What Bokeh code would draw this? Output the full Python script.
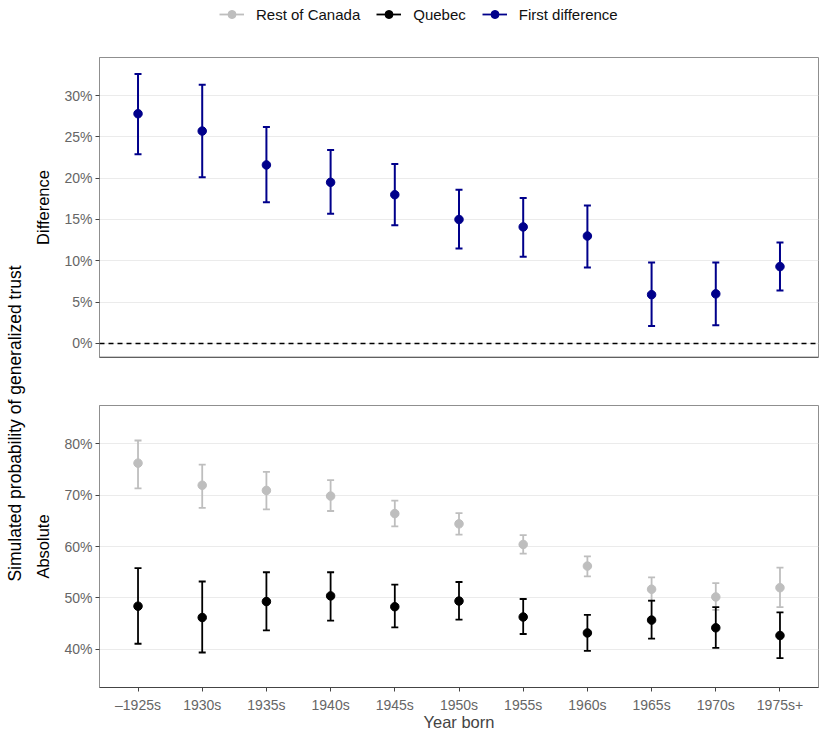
import math
from bokeh.plotting import figure
from bokeh.models import (ColumnDataSource, FactorRange, Range1d, Whisker, TeeHead, Span,
                          FixedTicker, PrintfTickFormatter, Legend, LegendItem, Label)
from bokeh.layouts import column, row
from bokeh.embed import file_html
from bokeh.resources import INLINE

# ---------------- data ----------------
cohorts = ["–1925s", "1930s", "1935s", "1940s", "1945s", "1950s",
           "1955s", "1960s", "1965s", "1970s", "1975s+"]

# First difference (percentage points)
diff_est = [27.8, 25.7, 21.6, 19.5, 18.0, 15.0, 14.1, 13.0, 5.9, 6.0, 9.3]
diff_low = [22.9, 20.1, 17.1, 15.7, 14.3, 11.5, 10.5, 9.2, 2.1, 2.2, 6.4]
diff_high = [32.6, 31.3, 26.2, 23.4, 21.7, 18.6, 17.6, 16.7, 9.8, 9.8, 12.2]

# Rest of Canada (%)
roc_est = [76.2, 71.9, 70.9, 69.8, 66.4, 64.4, 60.4, 56.2, 51.7, 50.2, 52.0]
roc_low = [71.3, 67.5, 67.2, 66.9, 63.9, 62.3, 58.6, 54.2, 49.4, 47.7, 48.2]
roc_high = [80.6, 75.9, 74.5, 72.9, 68.9, 66.5, 62.2, 58.1, 54.0, 52.9, 55.9]

# Quebec (%)
que_est = [48.4, 46.2, 49.3, 50.4, 48.3, 49.4, 46.3, 43.2, 45.7, 44.2, 42.7]
que_low = [41.1, 39.4, 43.7, 45.6, 44.3, 45.8, 43.0, 39.7, 42.1, 40.3, 38.3]
que_high = [55.8, 53.2, 55.0, 55.0, 52.6, 53.1, 49.8, 46.7, 49.5, 48.2, 47.2]

diff_ticks = [0, 5, 10, 15, 20, 25, 30]
abs_ticks = [40, 50, 60, 70, 80]

series_names = ["Rest of Canada", "Quebec", "First difference"]

# ---------------- style ----------------
FONT = "Liberation Sans"
BLUE = "#00008B"
GREY = "#BEBEBE"
BLACK = "#000000"
TICK_COLOR = "#666666"
FRAME = "#8f8f8f"
GRID = "#ebebeb"
series_colors = [GREY, BLACK, BLUE]

x_range = FactorRange(factors=cohorts, range_padding=0.2 / 11)


def style(p):
    p.outline_line_color = FRAME
    p.outline_line_width = 1
    p.xgrid.visible = False
    p.ygrid.grid_line_color = GRID
    p.ygrid.grid_line_width = 1
    p.background_fill_color = "white"
    p.border_fill_color = "white"
    for ax in p.yaxis:
        ax.axis_line_color = FRAME
        ax.major_tick_line_color = "#444444"
        ax.major_tick_out = 4
        ax.major_tick_in = 0
        ax.minor_tick_out = 0
        ax.minor_tick_in = 0
        ax.major_label_text_font = FONT
        ax.major_label_text_font_size = "14px"
        ax.major_label_text_color = TICK_COLOR
        ax.major_label_standoff = 3
        ax.axis_label_text_font = FONT
        ax.axis_label_text_font_size = "16.5px"
        ax.axis_label_text_font_style = "normal"
        ax.axis_label_text_color = BLACK
        ax.axis_label_standoff = 9
        ax.formatter = PrintfTickFormatter(format="%d%%")


def errorbars(p, xs, est, low, high, color, width=1.8):
    src = ColumnDataSource(dict(x=xs, est=est, low=low, high=high))
    w = Whisker(base="x", lower="low", upper="high", source=src, dimension="height",
                line_color=color, line_width=width,
                lower_head=TeeHead(size=7, line_color=color, line_width=width),
                upper_head=TeeHead(size=7, line_color=color, line_width=width))
    p.add_layout(w)
    r = p.scatter("x", "est", source=src, size=8.5, color=color)
    return r


# ---------------- legend strip ----------------
leg = figure(width=819, height=30, x_range=Range1d(0, 1), y_range=Range1d(0, 1),
             output_backend="svg", toolbar_location=None,
             x_axis_location=None, y_axis_location=None,
             min_border=0, min_border_left=0, min_border_right=0,
             min_border_top=0, min_border_bottom=0)
leg.outline_line_color = None
leg.xgrid.visible = False
leg.ygrid.visible = False
items = []
for name, col in zip(series_names, series_colors):
    # key-only renderers: their points lie outside the visible range
    src = ColumnDataSource(dict(x=[-5.0, -4.0], y=[-5.0, -5.0]))
    lr = leg.line("x", "y", source=src, line_color=col, line_width=1.8)
    sr = leg.scatter("x", "y", source=src, size=7, color=col)
    items.append(LegendItem(label=name, renderers=[lr, sr]))
legend = Legend(items=items, orientation="horizontal", location=(219, 6),
                glyph_width=25, glyph_height=20, label_standoff=12, spacing=16,
                padding=0, margin=0, border_line_color=None, background_fill_alpha=0,
                label_text_font=FONT, label_text_font_size="15px",
                label_text_color="#111111")
leg.add_layout(legend, "center")

# ---------------- top panel: difference ----------------
top = figure(x_range=x_range, y_range=Range1d(-1.7, 34.6), width=791, height=351,
             min_border_left=71, min_border_right=1, min_border_top=27, min_border_bottom=24,
             output_backend="svg", toolbar_location=None)
style(top)
top.xaxis.visible = False
top.yaxis.ticker = FixedTicker(ticks=diff_ticks)
top.yaxis.axis_label = "Difference"
top.add_layout(Span(location=top.y_range.start, dimension="width", line_color="#333333",
                    line_width=1.5))
top.add_layout(Span(location=0, dimension="width", line_color=BLACK, line_width=1.6,
                    line_dash="5 4"))
errorbars(top, cohorts, diff_est, diff_low, diff_high, BLUE, 2.0)

# ---------------- bottom panel: absolute ----------------
bot = figure(x_range=x_range, y_range=Range1d(32.6, 87.4), width=791, height=354,
             min_border_left=71, min_border_right=1, min_border_top=24, min_border_bottom=48,
             output_backend="svg", toolbar_location=None)
style(bot)
bot.yaxis.ticker = FixedTicker(ticks=abs_ticks)
bot.yaxis.axis_label = "Absolute"
xa = bot.xaxis[0]
xa.axis_line_color = "#444444"
xa.axis_line_width = 1.2
xa.major_tick_line_color = "#444444"
xa.major_tick_out = 4
xa.major_tick_in = 0
xa.major_label_text_font = FONT
xa.major_label_text_font_size = "14px"
xa.major_label_text_color = TICK_COLOR
xa.major_label_standoff = 5
xa.axis_label = "Year born"
xa.axis_label_text_font = FONT
xa.axis_label_text_font_size = "16.5px"
xa.axis_label_text_font_style = "normal"
xa.axis_label_standoff = -3
errorbars(bot, cohorts, roc_est, roc_low, roc_high, GREY, 1.8)
errorbars(bot, cohorts, que_est, que_low, que_high, BLACK, 1.8)

# ---------------- outer y label ----------------
lab = figure(width=28, height=705, x_range=Range1d(0, 28), y_range=Range1d(0, 705),
             output_backend="svg", toolbar_location=None,
             x_axis_location=None, y_axis_location=None,
             min_border=0, min_border_left=0, min_border_right=0,
             min_border_top=0, min_border_bottom=0)
lab.outline_line_color = None
lab.xgrid.visible = False
lab.ygrid.visible = False
lab.add_layout(Label(x=14, y=312, text="Simulated probability of generalized trust",
                     angle=math.pi / 2, text_align="center", text_baseline="middle",
                     text_font=FONT, text_font_size="17.5px", text_color=BLACK))

layout = column(leg, row(lab, column(top, bot)))

with open("out.html", "w") as f:
    f.write(file_html(layout, INLINE))
